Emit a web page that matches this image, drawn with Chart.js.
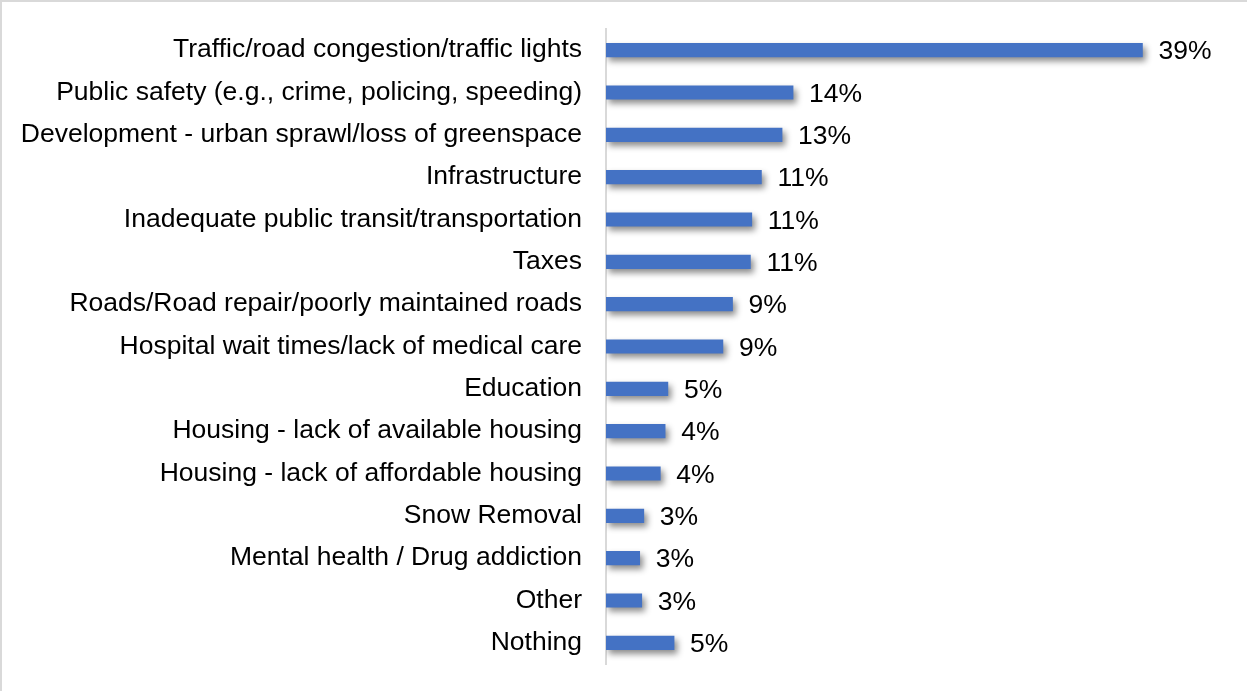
<!DOCTYPE html>
<html>
<head>
<meta charset="utf-8">
<script src="https://cdn.jsdelivr.net/npm/chart.js@4/dist/chart.umd.min.js"></script>
<style>
  html, body { margin: 0; padding: 0; background: #fff; }
  #wrap {
    position: relative;
    width: 1247px;
    height: 691px;
    box-sizing: border-box;
    border-top: 2px solid #d9d9d9;
    border-left: 2px solid #d9d9d9;
  }
</style>
</head>
<body>
<div id="wrap"><canvas id="myChart"></canvas></div>
<script>
const categories = [
    'Traffic/road congestion/traffic lights',
    'Public safety (e.g., crime, policing, speeding)',
    'Development - urban sprawl/loss of greenspace',
    'Infrastructure',
    'Inadequate public transit/transportation',
    'Taxes',
    'Roads/Road repair/poorly maintained roads',
    'Hospital wait times/lack of medical care',
    'Education',
    'Housing - lack of available housing',
    'Housing - lack of affordable housing',
    'Snow Removal',
    'Mental health / Drug addiction',
    'Other',
    'Nothing'
];
// bar lengths (percent)
const values = [39, 13.6, 12.8, 11.3, 10.6, 10.5, 9.2, 8.5, 4.5, 4.3, 3.95, 2.75, 2.45, 2.6, 4.95];
// printed labels
const valueLabels = ['39%', '14%', '13%', '11%', '11%', '11%', '9%', '9%', '5%', '4%', '4%', '3%', '3%', '3%', '5%'];

const FONT = '"Liberation Sans", Arial, sans-serif';

const shadowPlugin = {
    id: 'barShadow',
    beforeDatasetsDraw(chart) {
        const ctx = chart.ctx;
        ctx.save();
        ctx.shadowColor = 'rgba(0, 0, 0, 0.45)';
        ctx.shadowBlur = 6;
        ctx.shadowOffsetX = 3;
        ctx.shadowOffsetY = 4;
    },
    afterDatasetsDraw(chart) {
        chart.ctx.restore();
    }
};

const labelPlugin = {
    id: 'valueLabels',
    afterDatasetsDraw(chart) {
        const ctx = chart.ctx;
        const meta = chart.getDatasetMeta(0);
        ctx.save();
        ctx.font = '26.5px ' + FONT;
        ctx.fillStyle = '#000';
        ctx.textAlign = 'left';
        ctx.textBaseline = 'middle';
        meta.data.forEach((bar, i) => {
            ctx.fillText(valueLabels[i], bar.x + 16, bar.y + 2);
        });
        ctx.restore();
    }
};

const ctx = document.getElementById('myChart').getContext('2d');
const myChart = new Chart(ctx, {
    type: 'bar',
    data: {
        labels: categories,
        datasets: [{
            data: values,
            backgroundColor: '#4472c4',
            borderWidth: 0,
            barThickness: 13.5
        }]
    },
    options: {
        indexAxis: 'y',
        responsive: true,
        maintainAspectRatio: false,
        animation: false,
        layout: {
            padding: { top: 27, bottom: 27, left: 0, right: 22 }
        },
        scales: {
            x: {
                display: false,
                min: 0,
                max: 45
            },
            y: {
                afterFit(scale) {
                    scale.width = 604;
                    scale.paddingTop = 0;
                    scale.paddingBottom = 0;
                },
                grid: { display: false, drawTicks: false },
                border: { display: true, color: '#d9d9d9', width: 2 },
                ticks: {
                    padding: 24,
                    color: '#000',
                    font: { family: FONT, size: 26.5 }
                }
            }
        },
        plugins: {
            legend: { display: false },
            tooltip: { enabled: false }
        }
    },
    plugins: [shadowPlugin, labelPlugin]
});
</script>
</body>
</html>
